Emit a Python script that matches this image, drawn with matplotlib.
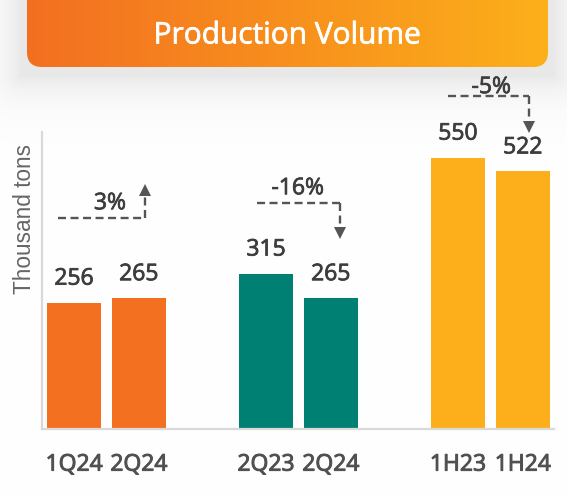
import numpy as np
import matplotlib
matplotlib.use("Agg")
import matplotlib.pyplot as plt
import matplotlib.patheffects as pe
from matplotlib.patches import FancyBboxPatch, Arc
from matplotlib.colors import to_rgb

# ---------------- data ----------------
categories = ["1Q24", "2Q24", "2Q23", "2Q24", "1H23", "1H24"]
values = [256, 265, 315, 265, 550, 522]
group_colors = ["#F37021", "#007F73", "#FCAF1A"]
change_labels = ["3%", "-16%", "-5%"]
title = "Production Volume"
y_label = "Thousand tons"

# ---------------- layout ----------------
W, H = 567, 497
fig = plt.figure(figsize=(W / 100, H / 100), dpi=100)
fig.patch.set_facecolor("white")


def medium(color, w=0.55):
    return [pe.withStroke(linewidth=w, foreground=color)]


# background layer in pixel coordinates
bg = fig.add_axes([0, 0, 1, 1], zorder=0)
bg.set_xlim(0, W)
bg.set_ylim(H, 0)
bg.axis("off")

# soft shadow under the banner
yy, xx = np.mgrid[0:H, 0:W] + 0.5
bx0, bx1, by0, by1 = 27, 548, -30, 67
sx0, sx1, sy0, sy1 = bx0 - 5, bx1 + 5, by0, by1 + 8
dx = np.maximum(np.maximum(sx0 - xx, 0), xx - sx1)
dy = np.maximum(np.maximum(sy0 - yy, 0), yy - sy1)
d = np.hypot(dx, dy)
dark = 0.09 * np.exp(-d / 22.0)
shadow = np.dstack([1 - dark] * 3)
bg.imshow(shadow, extent=(0, W, H, 0), aspect="auto", zorder=0, interpolation="bilinear")

# banner with gradient
banner = FancyBboxPatch((bx0, by0), bx1 - bx0, by1 - by0,
                        boxstyle="round,pad=0,rounding_size=15",
                        facecolor="none", edgecolor="none", zorder=1)
bg.add_patch(banner)
c0 = np.array(to_rgb("#F36F21"))
c1 = np.array(to_rgb("#FCB01A"))
t = np.linspace(0, 1, 256)
grad = (c0[None, :] * (1 - t[:, None]) + c1[None, :] * t[:, None])[None, :, :]
im = bg.imshow(grad, extent=(bx0, bx1, by1, by0), aspect="auto", zorder=2,
               interpolation="bilinear")
im.set_clip_path(banner)
bg.text((bx0 + bx1) / 2 - 0.5, 36, title, color="white", fontsize=21.5,
        family="Open Sans", ha="center", va="center", zorder=3,
        path_effects=medium("white", 0.5))

# tiny card corner arc at bottom-left
bg.add_patch(Arc((32, 528), 70, 70, theta1=180, theta2=235, color="#FCB01A",
                 lw=1.2, zorder=1))

# y label
fig.text(25 / W, 1 - 219.5 / H, y_label, rotation=90, ha="center", va="center",
         fontsize=16.3, family="Liberation Sans", color="#666666")

# ---------------- chart ----------------
ax = fig.add_axes([42 / W, 68 / H, (554 - 42) / W, (429 - 132) / H], zorder=2)
ax.patch.set_alpha(0)
group_step, pair_step = 3.555, 1.2
xpos = [g * group_step + i * pair_step for g in range(3) for i in range(2)]
colors = [group_colors[g] for g in range(3) for _ in range(2)]
ax.bar(xpos, values, width=1.0, color=colors, zorder=2)
ax.set_xlim(-0.593, 8.889)
ax.set_ylim(0, 602)

tc = "#3D3D3D"
for x, v in zip(xpos, values):
    ax.annotate(str(v), (x, v), xytext=(0, 13), textcoords="offset points",
                ha="center", va="baseline", fontsize=16.5, family="Open Sans",
                color=tc, path_effects=medium(tc))

ax.set_xticks(xpos)
lc = "#505050"
ax.set_xticklabels(categories, fontsize=16.5, family="Open Sans", color=lc)
for lab in ax.get_xticklabels():
    lab.set_path_effects(medium(lc, 0.7))
ax.tick_params(axis="x", length=0, pad=17)
ax.set_yticks([])
for s in ["top", "right"]:
    ax.spines[s].set_visible(False)
for s in ["left", "bottom"]:
    ax.spines[s].set_color("#D9D9D9")
    ax.spines[s].set_linewidth(1.6)

# change arrows (annotation geometry)
levels = [427.6, 458, 675]
tips = [494.5, 387, 602]
starts = [-0.30, -0.16, -0.18]
ends = [0.11, 0.17, 0.11]
label_dx = [0.16, -0.02, 0.05]
label_dy = [30, 30, 18]
acol = "#555555"
px_per_unit = (429 - 132) / 602.0
for g in range(3):
    xa = xpos[2 * g] + starts[g]
    xb = xpos[2 * g + 1] + ends[g]
    lv, tp = levels[g], tips[g]
    up = tp > lv
    head = 10 / px_per_unit
    ax.plot([xa, xb], [lv, lv], color=acol, lw=1.7, ls=(0, (3.4, 1.9)),
            clip_on=False, zorder=3, solid_capstyle="butt", dash_capstyle="butt")
    vend = tp - head if up else tp + head
    ax.plot([xb, xb], [lv, vend], color=acol, lw=1.7, ls=(0, (3.4, 1.9)),
            clip_on=False, zorder=3, dash_capstyle="butt")
    ax.plot([xb], [tp - head / 2 if up else tp + head / 2],
            marker="^" if up else "v", ms=8, color=acol, mec=acol, mew=0,
            clip_on=False, zorder=3)
    ax.text((xa + xb) / 2 + label_dx[g], lv + label_dy[g], change_labels[g],
            ha="center", va="center", fontsize=16.5, family="Open Sans",
            color=tc, path_effects=medium(tc))

fig.savefig("out.png", dpi=100, facecolor="white")
